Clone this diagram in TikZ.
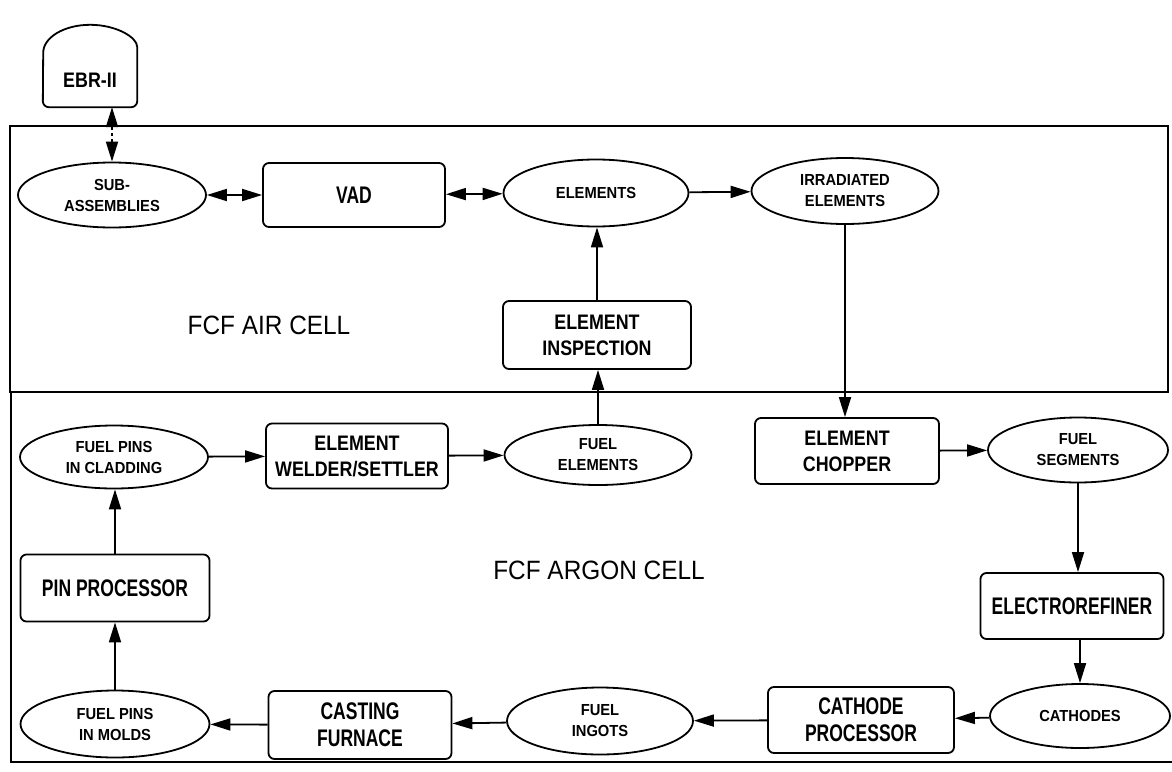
\documentclass[tikz,border=0pt]{standalone}
\usepackage{fontspec}
\setmainfont{Liberation Sans}
\newfontfamily\fsm{Liberation Sans}[FakeStretch=0.92,UprightFont=*,BoldFont=* Bold]
\newfontfamily\fmd{Liberation Sans}[FakeStretch=0.85]
\newfontfamily\fbg{Liberation Sans}[FakeStretch=0.73]
\newfontfamily\fti{Liberation Sans}[FakeStretch=0.92]
\usetikzlibrary{shapes.geometric,arrows.meta}
\begin{document}
\begin{tikzpicture}[x=1pt,y=-1pt,
  ln/.style={line width=1.8pt},
  box/.style={draw,line width=1.8pt,rounded corners=6pt,inner sep=0pt,align=center},
  oval/.style={draw,ellipse,line width=1.8pt,inner sep=0pt,align=center},
  sm/.style={font=\fsm\bfseries\fontsize{16}{21}\selectfont},
  md/.style={font=\fmd\bfseries\fontsize{21}{26}\selectfont},
  bg/.style={font=\fbg\bfseries\fontsize{24}{27}\selectfont},
  ti/.style={font=\fti\fontsize{26.5}{30}\selectfont},
  arr/.style={line width=1.8pt,-{Triangle[length=20pt,width=12pt]}},
  dbl/.style={line width=1.8pt,{Triangle[length=20pt,width=12pt]}-{Triangle[length=20pt,width=12pt]}},
]
\useasboundingbox (0,0) rectangle (1172,771);

% cells
\draw[ln] (10,126) rectangle (1168,392);
\draw[ln] (11,392) -- (11,762) -- (1172,762);
\node[ti] (air) at (269,325) {FCF AIR CELL};
\node[ti] (argon) at (599,570) {FCF ARGON CELL};

% EBR-II dome
\node[md,minimum width=94pt,minimum height=54pt,inner sep=0pt] (ebr) at (90,80) {EBR-II};
\draw[ln] (ebr.north east) arc[start angle=0,end angle=180,x radius=47pt,y radius=28pt]
  [rounded corners=6pt] -- (ebr.south west) -- (ebr.south east) -- cycle;

% air cell
\node[oval,sm,minimum width=188pt,minimum height=65pt] (sub) at (112,195) {SUB-\\ASSEMBLIES};
\node[box,bg,minimum width=182pt,minimum height=64pt] (vad) at (354,195) {VAD};
\node[oval,sm,minimum width=185pt,minimum height=67pt] (elem) at (596,193) {ELEMENTS};
\node[oval,sm,minimum width=187pt,minimum height=66pt] (irr) at (845,191) {IRRADIATED\\ELEMENTS};
\node[box,md,minimum width=188pt,minimum height=68pt] (insp) at (597,335) {ELEMENT\\INSPECTION};

% argon cell
\node[oval,sm,minimum width=188pt,minimum height=63pt] (clad) at (114,457) {FUEL PINS\\IN CLADDING};
\node[box,md,minimum width=182pt,minimum height=65pt] (weld) at (357,456) {ELEMENT\\WELDER/SETTLER};
\node[oval,sm,minimum width=187pt,minimum height=60pt] (fel) at (598,455) {FUEL\\ELEMENTS};
\node[box,md,minimum width=184pt,minimum height=66pt] (chop) at (847,451) {ELEMENT\\CHOPPER};
\node[oval,sm,minimum width=180pt,minimum height=65pt] (seg) at (1078,450) {FUEL\\SEGMENTS};
\node[box,bg,minimum width=183pt,minimum height=66pt] (er) at (1072,606) {ELECTROREFINER};
\node[oval,sm,minimum width=180pt,minimum height=64pt] (cat) at (1080,716) {CATHODES};
\node[box,bg,minimum width=186pt,minimum height=66pt] (cproc) at (861,720) {CATHODE\\PROCESSOR};
\node[oval,sm,minimum width=186pt,minimum height=67pt] (ingot) at (600,721) {FUEL\\INGOTS};
\node[box,bg,minimum width=183pt,minimum height=68pt] (cast) at (360,725) {CASTING\\FURNACE};
\node[oval,sm,minimum width=189pt,minimum height=67pt] (molds) at (115,724) {FUEL PINS\\IN MOLDS};
\node[box,bg,minimum width=189pt,minimum height=67pt] (pinp) at (115,588) {PIN PROCESSOR};

% connectors
\draw[dbl,dash pattern=on 3pt off 3pt] (sub.north |- ebr.south) -- (sub.north);
\draw[dbl] (sub) -- (vad);
\draw[dbl] (vad) -- (elem);
\draw[arr] (elem) -- (irr);
\draw[arr] (irr.south) -- (irr.south |- chop.north);
\draw[arr] (insp.north) -- (insp.north |- elem.south);
\draw[arr] (fel.north) -- (fel.north |- insp.south);
\draw[arr] (clad) -- (weld);
\draw[arr] (weld) -- (fel);
\draw[arr] (chop) -- (seg);
\draw[arr] (seg.south) -- (seg.south |- er.north);
\draw[arr] (cat.north |- er.south) -- (cat.north);
\draw[arr] (cat) -- (cproc);
\draw[arr] (cproc) -- (ingot);
\draw[arr] (ingot) -- (cast);
\draw[arr] (cast) -- (molds);
\draw[arr] (molds.north) -- (molds.north |- pinp.south);
\draw[arr] (pinp.north) -- (pinp.north |- clad.south);
\end{tikzpicture}
\end{document}
